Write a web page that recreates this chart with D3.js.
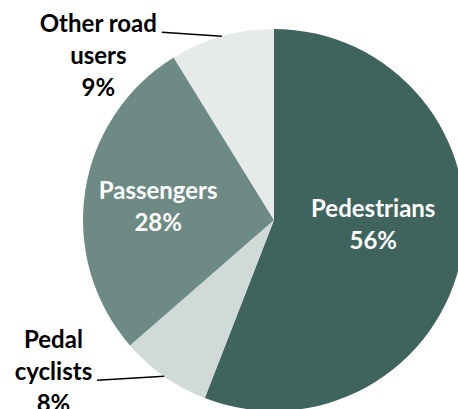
<!DOCTYPE html>
<html>
<head>
<meta charset="utf-8">
<script src="https://cdn.jsdelivr.net/npm/d3@7"></script>
<style>
  html, body { margin: 0; padding: 0; background: #fff; }
  svg { display: block; }
  text { font-family: "Lato", "Open Sans", sans-serif; font-weight: 700; }
</style>
</head>
<body>
<div id="chart"></div>
<script>
// data (clockwise from 12 o'clock)
var categories = ["Pedestrians", "Pedal cyclists", "Passengers", "Other road users"];
var values = [55.9, 7.7, 27.6, 8.8];
var pctLabels = ["56%", "8%", "28%", "9%"];
var labelLines = [["Pedestrians"], ["Pedal", "cyclists"], ["Passengers"], ["Other road", "users"]];

(function() {
    var width = 458, height = 409;
    var cx = 274, cy = 220, radius = 191;
    var lineH = 32, fontSize = 24;

    var colors = ["#3f635d", "#d0dad8", "#6e8a84", "#e6eaea"];
    // inside labels or outside with leader line
    var inside = [true, false, true, false];
    var nudge = [[-4, -15], null, [-12, 3], null];
    var leader = [null, [-67, 4], null, [-60, -4]];
    var attachLine = [0, 1, 0, 0];

    var svg = d3.select("#chart").append("svg")
        .attr("width", width)
        .attr("height", height);

    var g = svg.append("g")
        .attr("transform", "translate(" + cx + "," + cy + ")");

    var rows = categories.map(function(c, i) {
        return {name: c, value: values[i], pct: pctLabels[i], lines: labelLines[i].concat([pctLabels[i]]), i: i};
    });

    var pie = d3.pie().sort(null).value(d => d.value);
    var arcs = pie(rows);

    var arc = d3.arc().innerRadius(0).outerRadius(radius);
    var labelArc = d3.arc().innerRadius(radius * 0.55).outerRadius(radius * 0.55);
    var edgeArc = d3.arc().innerRadius(radius).outerRadius(radius);

    g.selectAll(".slice")
        .data(arcs)
        .enter().append("path")
        .attr("class", "slice")
        .attr("d", arc)
        .style("fill", d => colors[d.data.i]);

    arcs.forEach(function(d) {
        var i = d.data.i;
        var n = d.data.lines.length;
        if (inside[i]) {
            var c = labelArc.centroid(d);
            var x = c[0] + nudge[i][0], y = c[1] + nudge[i][1];
            var t = g.append("text")
                .attr("text-anchor", "middle")
                .attr("fill", "#fff")
                .style("font-size", fontSize + "px");
            d.data.lines.forEach(function(s, k) {
                t.append("tspan")
                    .attr("x", x)
                    .attr("y", y + (k - (n - 1) / 2) * lineH + fontSize * 0.34)
                    .text(s);
            });
        } else {
            var e = edgeArc.centroid(d);
            var end = [e[0] + leader[i][0], e[1] + leader[i][1]];
            g.append("line")
                .attr("x1", e[0]).attr("y1", e[1])
                .attr("x2", end[0]).attr("y2", end[1])
                .attr("stroke", "#000")
                .attr("stroke-width", 1.5);
            var t2 = g.append("text")
                .attr("text-anchor", "middle")
                .attr("fill", "#000")
                .style("font-size", fontSize + "px");
            var spans = d.data.lines.map(function(s, k) {
                return t2.append("tspan").text(s);
            });
            var w = spans[attachLine[i]].node().getComputedTextLength();
            var tx = end[0] - 5 - w / 2;
            spans.forEach(function(sp, k) {
                sp.attr("x", tx)
                  .attr("y", end[1] + (k - attachLine[i]) * lineH);
            });
        }
    });
})();
</script>
</body>
</html>
